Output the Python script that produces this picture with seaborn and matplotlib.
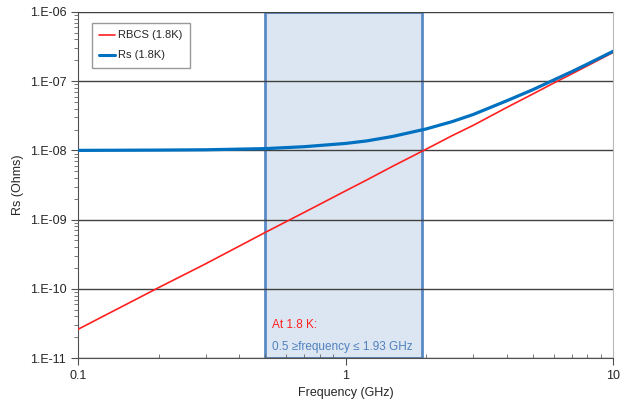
import numpy as np
import pandas as pd
import matplotlib
matplotlib.use('Agg')
import matplotlib.pyplot as plt
import seaborn as sns
from matplotlib.ticker import FixedLocator, FuncFormatter, NullFormatter

# data
freq_ghz = [0.1, 0.2, 0.3, 0.5, 0.7, 1.0, 1.2, 1.5, 2.0, 2.5, 3.0, 4.0, 5.0,
            6.0, 7.0, 8.0, 10.0]
rbcs = [2.6e-11, 1.04e-10, 2.3e-10, 6.5e-10, 1.27e-9, 2.6e-9, 3.74e-9, 5.9e-9,
        1.04e-8, 1.63e-8, 2.3e-8, 4.16e-8, 6.5e-8, 9.4e-8, 1.27e-7, 1.66e-7,
        2.6e-7]
rs = [1.0e-8, 1.01e-8, 1.02e-8, 1.06e-8, 1.13e-8, 1.26e-8, 1.37e-8, 1.59e-8,
      2.04e-8, 2.6e-8, 3.3e-8, 5.2e-8, 7.5e-8, 1.04e-7, 1.37e-7, 1.76e-7,
      2.7e-7]
band = [0.5, 1.93]
series_names = ['RBCS (1.8K)', 'Rs (1.8K)']

df = pd.DataFrame({
    'freq': freq_ghz * 2,
    'value': rbcs + rs,
    'series': [series_names[0]] * len(freq_ghz) + [series_names[1]] * len(freq_ghz),
})

sns.set_style('white')
plt.rcParams['font.family'] = ['Liberation Sans', 'DejaVu Sans']

fig = plt.figure(figsize=(6.38, 4.12), dpi=100)
ax = fig.add_axes([0.1223, 0.131, 0.8387, 0.840])

# shaded band
ax.axvspan(band[0], band[1], facecolor='#dce6f2', edgecolor='#5a8ac6',
           linewidth=2, zorder=1)

sns.lineplot(data=df, x='freq', y='value', hue='series',
             palette={series_names[0]: '#ff2020', series_names[1]: '#0070c0'},
             ax=ax, zorder=3, legend=True)
for line, lw in zip(ax.lines, [1.2, 2.3]):
    line.set_linewidth(lw)

ax.set_xscale('log')
ax.set_yscale('log')
ax.set_xlim(0.1, 10)
ax.set_ylim(1e-11, 1e-6)

ax.yaxis.set_major_locator(FixedLocator([1e-11, 1e-10, 1e-9, 1e-8, 1e-7, 1e-6]))
ax.yaxis.set_major_formatter(FuncFormatter(lambda v, p: '1.E-%02d' % round(-np.log10(v))))
ax.xaxis.set_major_locator(FixedLocator([0.1, 1, 10]))
ax.xaxis.set_major_formatter(FuncFormatter(lambda v, p: '%g' % v))
ax.xaxis.set_minor_formatter(NullFormatter())
ax.yaxis.set_minor_formatter(NullFormatter())

ax.grid(axis='y', which='major', color='#404040', linewidth=1, zorder=2)
ax.grid(axis='x', visible=False)
ax.set_axisbelow(False)

for side in ['top', 'right']:
    ax.spines[side].set_color('#b8b8b8')
for side in ['left', 'bottom']:
    ax.spines[side].set_color('#505050')
ax.tick_params(axis='both', which='major', direction='out', length=5,
               color='#505050', labelsize=9, left=True, bottom=True)
ax.tick_params(axis='x', which='minor', direction='in', length=3,
               color='#606060', bottom=True)
ax.tick_params(axis='y', which='minor', direction='out', length=3,
               color='#606060', left=True)

ax.set_xlabel('Frequency (GHz)', fontsize=9)
ax.set_ylabel('Rs (Ohms)', fontsize=9)

leg = ax.legend(loc='upper left', bbox_to_anchor=(0.015, 0.985), fontsize=8,
                frameon=True, fancybox=False, edgecolor='#808080',
                handlelength=1.4, handletextpad=0.3, borderpad=0.7,
                labelspacing=0.9)
leg.get_frame().set_linewidth(1)
for h, lw in zip(leg.get_lines(), [1.2, 2.2]):
    h.set_linewidth(lw)

ax.text(0.53, 2.7e-11, 'At 1.8 K:', color='#ff2020', fontsize=8.5, zorder=4)
ax.text(0.53, 1.3e-11, '0.5 \u2265frequency \u2264 1.93 GHz', color='#4f81bd',
        fontsize=8.5, zorder=4)

fig.savefig('out.png', dpi=100)
